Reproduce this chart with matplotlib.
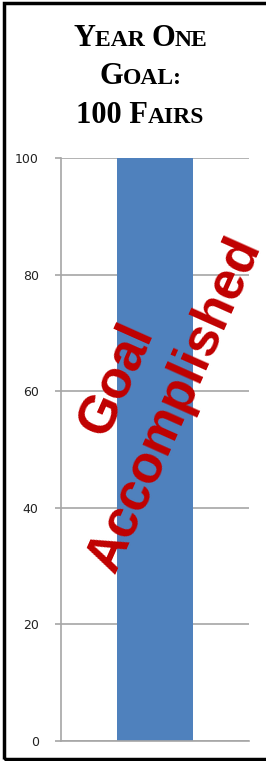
import matplotlib.pyplot as plt
from matplotlib.offsetbox import TextArea, HPacker, VPacker, AnchoredOffsetbox
from matplotlib.patches import Rectangle

categories = ["Year One"]
fairs = [100]
goal = 100
yticks = [0, 20, 40, 60, 80, 100]
title_lines = [["Y", "EAR ", "O", "NE"], ["G", "OAL:"], ["100 F", "AIRS"]]
banner = "Goal\nAccomplished"

fig = plt.figure(figsize=(2.66, 7.61), dpi=100)
ax = fig.add_axes([0.229, 0.0263, 0.707, 0.766])

ax.bar(categories, fairs, width=0.4, color="#4F81BD", zorder=2)
ax.set_xlim(-0.5, 0.5)
ax.set_ylim(0, goal)
ax.set_yticks(yticks)
ax.set_xticks([])
ax.grid(axis="y", color="#a6a6a6", linewidth=1.2, zorder=0)
for s in ["top", "right"]:
    ax.spines[s].set_visible(False)
ax.spines["left"].set_color("#a6a6a6")
ax.spines["bottom"].set_color("#a6a6a6")
ax.spines["left"].set_linewidth(1.2)
ax.spines["bottom"].set_linewidth(1.2)
ax.tick_params(axis="y", length=4, width=1.2, color="#a6a6a6", pad=12,
               labelsize=9, labelcolor="#222222")

# small-caps style title
big = dict(family="Liberation Serif", weight="bold", size=22, color="black")
small = dict(family="Liberation Serif", weight="bold", size=17, color="black")
rows = []
for line in title_lines:
    parts = []
    for i, piece in enumerate(line):
        parts.append(TextArea(piece, textprops=big if i % 2 == 0 else small))
    rows.append(HPacker(children=parts, align="baseline", pad=0, sep=0))
title = VPacker(children=rows, align="center", pad=0, sep=7)
box = AnchoredOffsetbox(loc="upper center", child=title, pad=0, frameon=False,
                        bbox_to_anchor=(0.528, 0.969), bbox_transform=fig.transFigure,
                        borderpad=0)
fig.add_artist(box)

ax.text(-0.05, 60, banner, rotation=66, ha="center", va="center",
        multialignment="center", color="#C00000", fontsize=38,
        family="Liberation Sans", weight="bold", linespacing=1.35,
        rotation_mode="anchor", clip_on=False, zorder=3)

fig.add_artist(Rectangle((0.015, 0.003), 1.2, 0.993, transform=fig.transFigure,
                         fill=False, edgecolor="black", linewidth=2.5))

fig.savefig("out.png", dpi=100)
